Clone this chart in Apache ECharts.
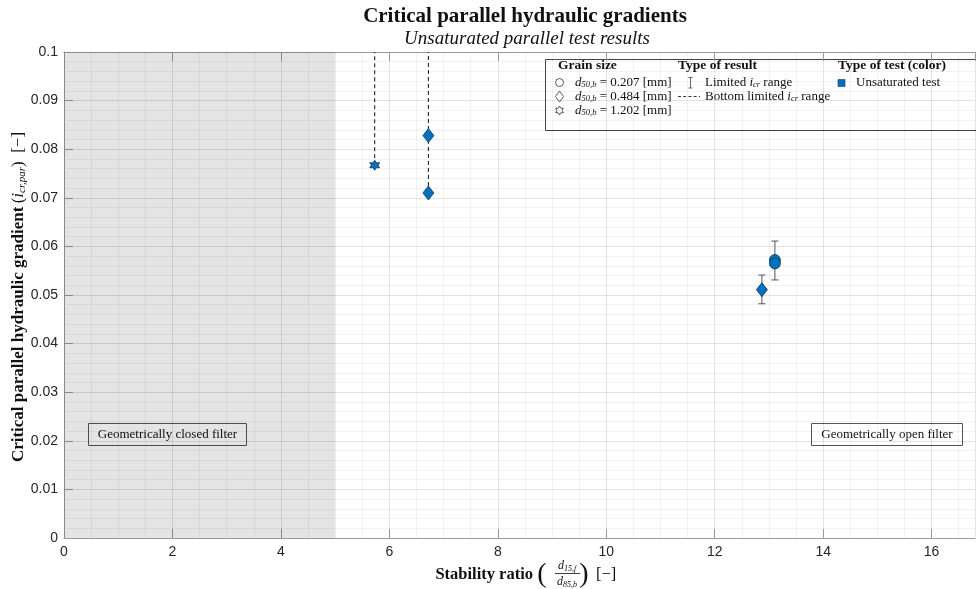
<!DOCTYPE html>
<html>
<head>
<meta charset="utf-8">
<script src="https://cdn.jsdelivr.net/npm/echarts@6/dist/echarts.min.js"></script>
<style>
  html, body { margin: 0; padding: 0; background: #ffffff; }
  #chart { width: 976px; height: 589px; }
</style>
</head>
<body>
<div id="chart"></div>
<script>
// Tick labels
const xTickLabels = ['0', '2', '4', '6', '8', '10', '12', '14', '16'];
const yTickLabels = ['0', '0.01', '0.02', '0.03', '0.04', '0.05', '0.06', '0.07', '0.08', '0.09', '0.1'];

// Grain size d50,b = 0.207 mm (circles)
const d207X = [13.11, 13.11];
const d207Y = [0.0572, 0.0565];
// Grain size d50,b = 0.484 mm (diamonds)
const d484X = [6.72, 6.72, 12.87];
const d484Y = [0.0828, 0.0710, 0.0511];
// Grain size d50,b = 1.202 mm (hexagrams)
const d1202X = [5.73];
const d1202Y = [0.0767];

// Limited i_cr range (error bars)
const rangeX = [12.87, 13.11];
const rangeLow = [0.0482, 0.0531];
const rangeHigh = [0.0541, 0.0611];

// Bottom limited i_cr range (dashed up to the top of the axis)
const bottomLimX = [5.73, 6.72];
const bottomLimY = [0.0767, 0.0710];
const yTop = 0.1;

// Geometrically closed filter region (stability ratio below 5)
const closedFilterLimit = 5;

const SERIF = '"Liberation Serif", "DejaVu Serif", serif';
const SANS = '"Liberation Sans", Arial, Helvetica, sans-serif';
const BLUE = '#0072BD';
const EDGE = '#17375a';

// six-pointed star outline, centred on (cx, cy)
function hexagramPoints(cx, cy, R) {
  const pts = [];
  for (let k = 0; k < 12; k++) {
    const a = (-90 + k * 30) * Math.PI / 180;
    const r = (k % 2 === 0) ? R : R * 0.577;
    pts.push([cx + r * Math.cos(a), cy + r * Math.sin(a)]);
  }
  return pts;
}
const STAR = 'path://M' + hexagramPoints(10, 10, 10).map(p => p[0].toFixed(2) + ' ' + p[1].toFixed(2)).join(' L') + ' Z';

const zip = (xs, ys) => xs.map((x, i) => [x, ys[i]]);

const chart = echarts.init(document.getElementById('chart'), null, { renderer: 'canvas' });

const markerStyle = { color: BLUE, borderColor: EDGE, borderWidth: 0.8, opacity: 1 };

const series = [];

// shaded closed-filter region
series.push({
  type: 'line', data: [], silent: true,
  markArea: {
    silent: true,
    itemStyle: { color: 'rgba(0,0,0,0.105)' },
    data: [[{ xAxis: 0, yAxis: 0 }, { xAxis: closedFilterLimit, yAxis: yTop }]]
  }
});

// dashed bottom-limited ranges
bottomLimX.forEach((x, i) => {
  series.push({
    type: 'line', silent: true, symbol: 'none', z: 3,
    data: [[x, bottomLimY[i]], [x, yTop]],
    lineStyle: { color: '#111', width: 1, type: [4, 3] }
  });
});

// error bars
series.push({
  type: 'custom', z: 3, silent: true,
  data: rangeX.map((x, i) => [x, rangeLow[i], rangeHigh[i]]),
  renderItem: function (params, api) {
    const lo = api.coord([api.value(0), api.value(1)]);
    const hi = api.coord([api.value(0), api.value(2)]);
    const cw = 3.5;
    const st = { stroke: '#555', lineWidth: 1, fill: null };
    return {
      type: 'group',
      children: [
        { type: 'line', shape: { x1: lo[0], y1: lo[1], x2: hi[0], y2: hi[1] }, style: st },
        { type: 'line', shape: { x1: lo[0] - cw, y1: lo[1], x2: lo[0] + cw, y2: lo[1] }, style: st },
        { type: 'line', shape: { x1: hi[0] - cw, y1: hi[1], x2: hi[0] + cw, y2: hi[1] }, style: st }
      ]
    };
  }
});

series.push({ type: 'scatter', z: 5, symbol: 'circle', symbolSize: 11, itemStyle: markerStyle, data: zip(d207X, d207Y) });
series.push({ type: 'scatter', z: 5, symbol: 'diamond', symbolSize: [11, 14], itemStyle: markerStyle, data: zip(d484X, d484Y) });
series.push({ type: 'scatter', z: 5, symbol: STAR, symbolSize: 10, itemStyle: markerStyle, data: zip(d1202X, d1202Y) });

const axisLineStyle = { color: '#9a9a9a', width: 1 };

const option = {
  animation: false,
  backgroundColor: '#ffffff',
  grid: { left: 64, right: 1, top: 52, bottom: 51, containLabel: false, outerBoundsMode: 'none' },
  xAxis: [{
    type: 'value', min: 0, max: 16.8, interval: 2,
    axisLine: { show: true, onZero: false, lineStyle: axisLineStyle },
    axisTick: { show: true, inside: true, length: 9, lineStyle: axisLineStyle },
    axisLabel: {
      show: true, margin: 7, color: '#262626', fontFamily: SANS, fontSize: 14,
      showMaxLabel: false, hideOverlap: false,
      formatter: v => xTickLabels[Math.round(v / 2)] ?? ''
    },
    splitLine: { show: true, lineStyle: { color: 'rgba(0,0,0,0.11)', width: 1 } },
    minorTick: { show: false, splitNumber: 4 },
    minorSplitLine: { show: true, lineStyle: { color: 'rgba(0,0,0,0.05)', width: 1 } }
  }, {
    type: 'value', min: 0, max: 16.8, interval: 2, position: 'top',
    axisLine: { show: true, onZero: false, lineStyle: axisLineStyle },
    axisTick: { show: true, inside: true, length: 9, lineStyle: axisLineStyle },
    axisLabel: { show: false },
    splitLine: { show: false }
  }],
  yAxis: [{
    type: 'value', min: 0, max: yTop, interval: 0.01,
    axisLine: { show: true, onZero: false, lineStyle: axisLineStyle },
    axisTick: { show: true, inside: true, length: 9, lineStyle: axisLineStyle },
    axisLabel: {
      show: true, margin: 6, color: '#262626', fontFamily: SANS, fontSize: 14,
      formatter: v => yTickLabels[Math.round(v / 0.01)] ?? ''
    },
    splitLine: { show: true, lineStyle: { color: 'rgba(0,0,0,0.11)', width: 1 } },
    minorTick: { show: false, splitNumber: 5 },
    minorSplitLine: { show: true, lineStyle: { color: 'rgba(0,0,0,0.05)', width: 1 } }
  }],
  series: series,
  graphic: []
};

const G = option.graphic;

// titles
G.push({ type: 'text', x: 525, y: 17, silent: true,
  style: { text: 'Critical parallel hydraulic gradients', font: 'bold 21px ' + SERIF, fill: '#111', align: 'center', verticalAlign: 'middle' } });
G.push({ type: 'text', x: 527, y: 39, silent: true,
  style: { text: 'Unsaturated parallel test results', font: 'italic 19px ' + SERIF, fill: '#111', align: 'center', verticalAlign: 'middle' } });

// y-axis title (rotated)
G.push({ type: 'text', x: 19, y: 297, rotation: Math.PI / 2, silent: true,
  style: {
    text: '{b|Critical parallel hydraulic gradient} {n|(}{i|i}{s|cr,par}{n|)  [\u2212]}',
    align: 'center', verticalAlign: 'middle',
    rich: {
      b: { font: 'bold 17px ' + SERIF, fill: '#111' },
      n: { font: '17px ' + SERIF, fill: '#111' },
      i: { font: 'italic 17px ' + SERIF, fill: '#111' },
      s: { font: 'italic 11px ' + SERIF, fill: '#111', padding: [7, 0, 0, 0] }
    }
  } });

// x-axis title with fraction
const fracRich = { i: { font: 'italic 12px ' + SERIF, fill: '#111' }, s: { font: 'italic 8px ' + SERIF, fill: '#111', padding: [5, 0, 0, 0] } };
G.push({ type: 'group', silent: true, children: [
  { type: 'text', x: 533, y: 575, style: { text: 'Stability ratio', font: 'bold 16.5px ' + SERIF, fill: '#111', align: 'right', verticalAlign: 'middle' } },
  { type: 'text', x: 542, y: 575, style: { text: '(', font: '28px ' + SERIF, fill: '#111', align: 'center', verticalAlign: 'middle' } },
  { type: 'text', x: 567, y: 566, style: { text: '{i|d}{s|15,f}', align: 'center', verticalAlign: 'middle', rich: fracRich } },
  { type: 'line', shape: { x1: 555, y1: 573.5, x2: 580, y2: 573.5 }, style: { stroke: '#111', lineWidth: 0.8 } },
  { type: 'text', x: 567, y: 582, style: { text: '{i|d}{s|85,b}', align: 'center', verticalAlign: 'middle', rich: fracRich } },
  { type: 'text', x: 584, y: 575, style: { text: ')', font: '28px ' + SERIF, fill: '#111', align: 'center', verticalAlign: 'middle' } },
  { type: 'text', x: 596, y: 575, style: { text: '[\u2212]', font: '16.5px ' + SERIF, fill: '#111', align: 'left', verticalAlign: 'middle' } }
] });

// region annotation boxes
function noteBox(x, y, w, h, label) {
  return { type: 'group', silent: true, z: 20, children: [
    { type: 'rect', shape: { x: x, y: y, width: w, height: h }, style: { fill: '#ffffff', stroke: '#555', lineWidth: 1 } },
    { type: 'text', x: x + w / 2, y: y + h / 2, style: { text: label, font: '13px ' + SERIF, fill: '#111', align: 'center', verticalAlign: 'middle' } }
  ] };
}
G.push(noteBox(88.5, 423.5, 158, 22, 'Geometrically closed filter'));
G.push(noteBox(811.5, 423.5, 151, 22, 'Geometrically open filter'));

// legend panel
const lgRich = {
  n: { font: '13px ' + SERIF, fill: '#111' },
  i: { font: 'italic 13px ' + SERIF, fill: '#111' },
  s: { font: 'italic 8.5px ' + SERIF, fill: '#111', padding: [5, 0, 0, 0] }
};
const legendChildren = [
  { type: 'rect', shape: { x: 545.5, y: 59.5, width: 440, height: 71 }, style: { fill: '#ffffff', stroke: '#444', lineWidth: 1 } },
  { type: 'text', x: 558, y: 65.5, style: { text: 'Grain size', font: 'bold 13.5px ' + SERIF, fill: '#111', verticalAlign: 'middle' } },
  { type: 'text', x: 678, y: 65.5, style: { text: 'Type of result', font: 'bold 13.5px ' + SERIF, fill: '#111', verticalAlign: 'middle' } },
  { type: 'text', x: 838, y: 65.5, style: { text: 'Type of test (color)', font: 'bold 13.5px ' + SERIF, fill: '#111', verticalAlign: 'middle' } },
  // grain size symbols
  { type: 'circle', shape: { cx: 559.5, cy: 82.5, r: 4 }, style: { fill: 'none', stroke: '#333', lineWidth: 0.8 } },
  { type: 'polygon', shape: { points: [[559.5, 91], [563.5, 96.5], [559.5, 102], [555.5, 96.5]] }, style: { fill: 'none', stroke: '#333', lineWidth: 0.8 } },
  { type: 'polygon', shape: { points: hexagramPoints(559.5, 110.5, 4.5) }, style: { fill: 'none', stroke: '#333', lineWidth: 0.8 } },
  { type: 'text', x: 575, y: 82.5, style: { text: '{i|d}{s|50,b}{n| = 0.207 [mm]}', verticalAlign: 'middle', rich: lgRich } },
  { type: 'text', x: 575, y: 96.5, style: { text: '{i|d}{s|50,b}{n| = 0.484 [mm]}', verticalAlign: 'middle', rich: lgRich } },
  { type: 'text', x: 575, y: 110.5, style: { text: '{i|d}{s|50,b}{n| = 1.202 [mm]}', verticalAlign: 'middle', rich: lgRich } },
  // result types
  { type: 'line', shape: { x1: 690.5, y1: 77.5, x2: 690.5, y2: 88 }, style: { stroke: '#444', lineWidth: 0.8 } },
  { type: 'line', shape: { x1: 688.5, y1: 77.5, x2: 692.5, y2: 77.5 }, style: { stroke: '#444', lineWidth: 0.8 } },
  { type: 'line', shape: { x1: 688.5, y1: 88, x2: 692.5, y2: 88 }, style: { stroke: '#444', lineWidth: 0.8 } },
  { type: 'text', x: 705, y: 82.5, style: { text: '{n|Limited }{i|i}{s|cr}{n| range}', verticalAlign: 'middle', rich: lgRich } },
  { type: 'line', shape: { x1: 678, y1: 96.5, x2: 700, y2: 96.5 }, style: { stroke: '#222', lineWidth: 0.9, lineDash: [3, 2.2] } },
  { type: 'text', x: 705, y: 96.5, style: { text: '{n|Bottom limited }{i|i}{s|cr}{n| range}', verticalAlign: 'middle', rich: lgRich } },
  // test type
  { type: 'rect', shape: { x: 838, y: 79.5, width: 7, height: 7 }, style: { fill: BLUE, stroke: EDGE, lineWidth: 0.6 } },
  { type: 'text', x: 856, y: 82.5, style: { text: 'Unsaturated test', font: '13px ' + SERIF, fill: '#111', verticalAlign: 'middle' } }
];
G.push({ type: 'group', silent: true, z: 20, children: legendChildren });

chart.setOption(option);
</script>
</body>
</html>
